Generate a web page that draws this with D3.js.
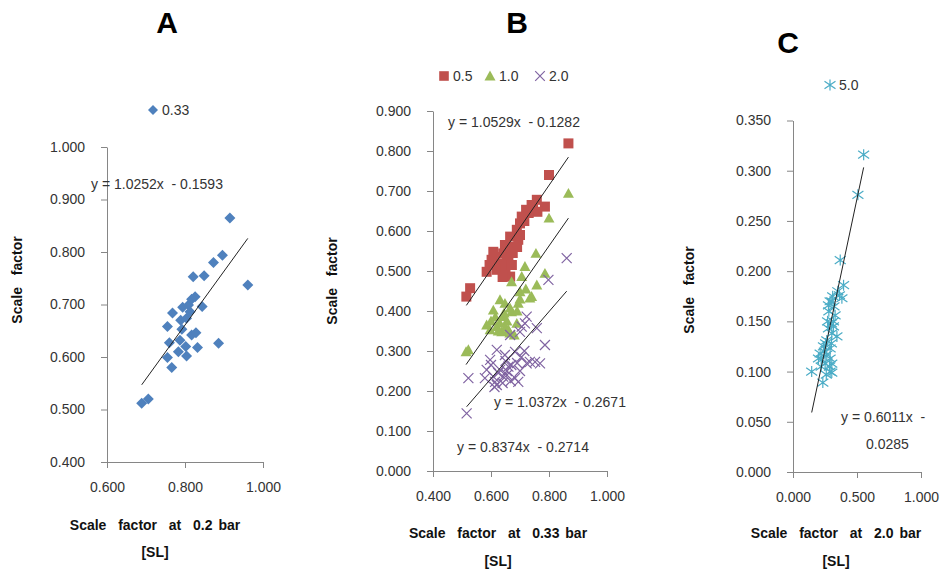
<!DOCTYPE html>
<html>
<head>
<meta charset="utf-8">
<script src="https://cdn.jsdelivr.net/npm/d3@7"></script>
<style>
  body { margin: 0; background: #fff; }
  svg { font-family: "Liberation Sans", Arial, sans-serif; }
  .axis path, .axis line { stroke: #868686; }
  .axis text { font-size: 14px; fill: #333; }
  .lab { font-size: 14px; font-weight: bold; fill: #111; white-space: pre; word-spacing: 2px; }
  .eq { font-size: 14px; fill: #333; white-space: pre; }
  .leg { font-size: 14px; fill: #333; }
  .title { font-size: 30px; font-weight: bold; font-family: Arial, "Liberation Sans", sans-serif; }
</style>
</head>
<body>
<svg width="941" height="572"></svg>
<script>
// ---- panel A : 0.2 bar vs 0.33 bar ----
var aX = [0.689, 0.706, 0.766, 0.755, 0.783, 0.804, 0.802, 0.832, 0.760, 0.787,
          0.755, 0.792, 0.817, 0.828, 0.886, 0.768, 0.789, 0.804, 0.794, 0.809,
          0.813, 0.817, 0.826, 0.844, 0.821, 0.849, 0.873, 0.896, 0.961, 0.915];
var aY = [0.512, 0.520, 0.580, 0.599, 0.610, 0.602, 0.620, 0.618, 0.627, 0.632,
          0.658, 0.653, 0.642, 0.646, 0.626, 0.684, 0.670, 0.674, 0.695, 0.699,
          0.686, 0.710, 0.715, 0.696, 0.753, 0.755, 0.780, 0.794, 0.737, 0.865];
var aFit = [1.0252, -0.1593];

// ---- panel B : 0.33 bar vs 0.5 / 1.0 / 2.0 ----
var rX = [0.867, 0.800, 0.758, 0.786, 0.760, 0.740, 0.721, 0.706, 0.700, 0.689,
          0.666, 0.694, 0.648, 0.608, 0.642, 0.671, 0.602, 0.631, 0.660, 0.585,
          0.620, 0.648, 0.666, 0.528, 0.515, 0.680, 0.655, 0.625, 0.595, 0.612,
          0.650, 0.672, 0.690, 0.700, 0.715, 0.730, 0.745, 0.675, 0.640];
var rY = [0.819, 0.740, 0.678, 0.661, 0.648, 0.665, 0.653, 0.636, 0.619, 0.603,
          0.586, 0.578, 0.565, 0.548, 0.544, 0.553, 0.528, 0.519, 0.523, 0.498,
          0.503, 0.494, 0.486, 0.457, 0.436, 0.560, 0.530, 0.510, 0.515, 0.535,
          0.505, 0.515, 0.560, 0.590, 0.625, 0.645, 0.660, 0.545, 0.485];
var gX = [0.867, 0.800, 0.755, 0.786, 0.717, 0.706, 0.671, 0.758, 0.734, 0.700,
          0.631, 0.694, 0.740, 0.666, 0.608, 0.642, 0.585, 0.620, 0.660, 0.689,
          0.637, 0.597, 0.522, 0.514, 0.671, 0.648, 0.680, 0.655, 0.600, 0.615,
          0.630, 0.650, 0.665, 0.645, 0.625, 0.690, 0.700, 0.720];
var gY = [0.694, 0.632, 0.544, 0.494, 0.511, 0.486, 0.473, 0.465, 0.432, 0.448,
          0.428, 0.419, 0.436, 0.407, 0.402, 0.386, 0.365, 0.361, 0.353, 0.369,
          0.348, 0.353, 0.303, 0.298, 0.398, 0.419, 0.340, 0.375, 0.375, 0.385,
          0.370, 0.360, 0.345, 0.395, 0.350, 0.400, 0.430, 0.455];
var pX = [0.861, 0.798, 0.717, 0.758, 0.700, 0.786, 0.666, 0.620, 0.648, 0.683,
          0.752, 0.723, 0.597, 0.585, 0.631, 0.660, 0.608, 0.642, 0.683, 0.620,
          0.522, 0.734, 0.694, 0.614, 0.516, 0.579, 0.723, 0.769, 0.706, 0.655,
          0.670, 0.600, 0.625, 0.640, 0.655, 0.668, 0.690, 0.705, 0.715, 0.650,
          0.612, 0.700];
var pY = [0.532, 0.478, 0.369, 0.357, 0.348, 0.315, 0.340, 0.303, 0.290, 0.298,
          0.273, 0.269, 0.278, 0.253, 0.253, 0.261, 0.236, 0.236, 0.232, 0.215,
          0.232, 0.273, 0.223, 0.223, 0.144, 0.232, 0.386, 0.269, 0.361, 0.250,
          0.265, 0.265, 0.245, 0.220, 0.240, 0.225, 0.270, 0.285, 0.300, 0.275,
          0.210, 0.250];
var rFit = [1.0529, -0.1282];
var gFit = [1.0372, -0.2671];
var pFit = [0.8374, -0.2714];

// ---- panel C : 2.0 bar vs 5.0 ----
var cX = [0.552, 0.507, 0.369, 0.395, 0.363, 0.303, 0.382, 0.290, 0.277, 0.329,
          0.316, 0.277, 0.343, 0.303, 0.264, 0.238, 0.290, 0.212, 0.264, 0.199,
          0.290, 0.251, 0.303, 0.225, 0.146, 0.290, 0.303, 0.233, 0.316, 0.280,
          0.300, 0.320, 0.270, 0.255, 0.245, 0.300, 0.285, 0.260, 0.220, 0.350, 0.310];
var cY = [0.316, 0.276, 0.211, 0.186, 0.176, 0.170, 0.173, 0.170, 0.166, 0.156,
          0.150, 0.143, 0.135, 0.138, 0.131, 0.125, 0.123, 0.118, 0.117, 0.113,
          0.113, 0.108, 0.108, 0.112, 0.100, 0.100, 0.099, 0.089, 0.145, 0.160,
          0.148, 0.165, 0.150, 0.128, 0.120, 0.128, 0.105, 0.097, 0.105, 0.180, 0.175];
var cFit = [0.6011, -0.0285];

// tick values
var aXTicks = [0.6, 0.8, 1.0];
var aYTicks = [0.4, 0.5, 0.6, 0.7, 0.8, 0.9, 1.0];
var bXTicks = [0.4, 0.6, 0.8, 1.0];
var bYTicks = [0, 0.1, 0.2, 0.3, 0.4, 0.5, 0.6, 0.7, 0.8, 0.9];
var cXTicks = [0, 0.5, 1.0];
var cYTicks = [0, 0.05, 0.1, 0.15, 0.2, 0.25, 0.3, 0.35];

var svg = d3.select("svg");
var fmt = d3.format(".3f");

var blue = "#4f81bd", red = "#c0504d", green = "#9bbb59", purple = "#8064a2", teal = "#4bacc6";

// marker paths
var markers = {
  diamond: function(r) { return "M0," + (-r) + "L" + r + ",0L0," + r + "L" + (-r) + ",0Z"; },
  square: function(r) { return "M" + (-r) + "," + (-r) + "h" + (2 * r) + "v" + (2 * r) + "h" + (-2 * r) + "Z"; },
  triangle: function(r) { return "M0," + (-r) + "L" + r + "," + (r * 0.8) + "L" + (-r) + "," + (r * 0.8) + "Z"; },
  x: function(r) { return "M" + (-r) + "," + (-r) + "L" + r + "," + r + "M" + (-r) + "," + r + "L" + r + "," + (-r); },
  star: function(r) { return "M" + (-r) + "," + (-r * 0.7) + "L" + r + "," + (r * 0.7) + "M" + (-r) + "," + (r * 0.7) + "L" + r + "," + (-r * 0.7) + "M0," + (-r) + "L0," + r; }
};

function drawAxes(x, y, xt, yt) {
  svg.append("g")
      .attr("class", "axis")
      .attr("transform", "translate(0," + y.range()[0] + ")")
      .call(d3.axisBottom(x).tickValues(xt).tickFormat(fmt).tickSize(6).tickSizeOuter(0).tickPadding(14));
  svg.append("g")
      .attr("class", "axis")
      .attr("transform", "translate(" + x.range()[0] + ",0)")
      .call(d3.axisLeft(y).tickValues(yt).tickFormat(fmt).tickSize(6).tickSizeOuter(0).tickPadding(16));
}

function drawSeries(x, y, xs, ys, shape, r, color, stroked) {
  var pts = xs.map(function(d, i) { return [d, ys[i]]; });
  svg.append("g").selectAll("path")
    .data(pts)
    .enter().append("path")
      .attr("transform", function(d) { return "translate(" + x(d[0]) + "," + y(d[1]) + ")"; })
      .attr("d", markers[shape](r))
      .attr("fill", stroked ? "none" : color)
      .attr("stroke", stroked ? color : "none")
      .attr("stroke-width", stroked ? 1.2 : 0);
}

function drawFit(x, y, xs, fit) {
  var ext = d3.extent(xs);
  svg.append("line")
      .attr("x1", x(ext[0])).attr("y1", y(fit[0] * ext[0] + fit[1]))
      .attr("x2", x(ext[1])).attr("y2", y(fit[0] * ext[1] + fit[1]))
      .attr("stroke", "#222")
      .attr("stroke-width", 1);
}

function eqText(fit) {
  return "y = " + fit[0].toFixed(4) + "x  - " + Math.abs(fit[1]).toFixed(4);
}

function label(txt, cx, cy, rot) {
  svg.append("text")
      .attr("class", "lab")
      .attr("text-anchor", "middle")
      .attr("transform", "translate(" + cx + "," + cy + ")" + (rot ? " rotate(-90)" : ""))
      .text(txt);
}

function title(txt, cx, cy) {
  svg.append("text").attr("class", "title").attr("x", cx).attr("y", cy)
      .attr("text-anchor", "middle").text(txt);
}

// ===== A =====
var xA = d3.scaleLinear().domain([0.6, 1.0]).range([107, 263]),
    yA = d3.scaleLinear().domain([0.4, 1.0]).range([462, 147]);
drawAxes(xA, yA, aXTicks, aYTicks);
drawSeries(xA, yA, aX, aY, "diamond", 5.5, blue, false);
drawFit(xA, yA, aX, aFit);
svg.append("text").attr("class", "eq").attr("x", 91).attr("y", 189).text(eqText(aFit));
svg.append("path").attr("transform", "translate(153,110)").attr("d", markers.diamond(5)).attr("fill", blue);
svg.append("text").attr("class", "leg").attr("x", 162).attr("y", 115).text("0.33");
title("A", 167, 33);
label("Scale  factor", 22, 280, true);
label("Scale  factor  at  0.2 bar", 155, 530);
label("[SL]", 155, 557);

// ===== B =====
var xB = d3.scaleLinear().domain([0.4, 1.0]).range([433, 607]),
    yB = d3.scaleLinear().domain([0, 0.9]).range([471, 111]);
drawAxes(xB, yB, bXTicks, bYTicks);
drawSeries(xB, yB, rX, rY, "square", 5, red, false);
drawSeries(xB, yB, gX, gY, "triangle", 5.5, green, false);
drawSeries(xB, yB, pX, pY, "x", 5, purple, true);
drawFit(xB, yB, rX, rFit);
drawFit(xB, yB, gX, gFit);
drawFit(xB, yB, pX, pFit);
svg.append("text").attr("class", "eq").attr("x", 448).attr("y", 127).text(eqText(rFit));
svg.append("text").attr("class", "eq").attr("x", 494).attr("y", 407).text(eqText(gFit));
svg.append("text").attr("class", "eq").attr("x", 457).attr("y", 452).text(eqText(pFit));
var bLeg = [["square", red, false, 444, "0.5"], ["triangle", green, false, 490, "1.0"], ["x", purple, true, 540, "2.0"]];
bLeg.forEach(function(d) {
  svg.append("path").attr("transform", "translate(" + d[3] + ",76)").attr("d", markers[d[0]](d[0] === "triangle" ? 5.5 : 4.8))
      .attr("fill", d[2] ? "none" : d[1]).attr("stroke", d[2] ? d[1] : "none").attr("stroke-width", 1.2);
  svg.append("text").attr("class", "leg").attr("x", d[3] + 9).attr("y", 81).text(d[4]);
});
title("B", 517, 33);
label("Scale  factor", 337, 281, true);
label("Scale  factor  at  0.33 bar", 498, 538);
label("[SL]", 498, 566);

// ===== C =====
var xC = d3.scaleLinear().domain([0, 1.0]).range([793, 921]),
    yC = d3.scaleLinear().domain([0, 0.35]).range([472, 120.5]);
drawAxes(xC, yC, cXTicks, cYTicks);
drawSeries(xC, yC, cX, cY, "star", 5.5, teal, true);
drawFit(xC, yC, cX, cFit);
svg.append("text").attr("class", "eq").attr("x", 841).attr("y", 422).text("y = " + cFit[0].toFixed(4) + "x  -");
svg.append("text").attr("class", "eq").attr("x", 866).attr("y", 449).text(Math.abs(cFit[1]).toFixed(4));
svg.append("path").attr("transform", "translate(830,85)").attr("d", markers.star(5.5))
    .attr("fill", "none").attr("stroke", teal).attr("stroke-width", 1.2);
svg.append("text").attr("class", "leg").attr("x", 839).attr("y", 90).text("5.0");
title("C", 788, 53);
label("Scale  factor", 694, 290, true);
label("Scale  factor  at  2.0 bar", 836, 538);
label("[SL]", 836, 566);
</script>
</body>
</html>
